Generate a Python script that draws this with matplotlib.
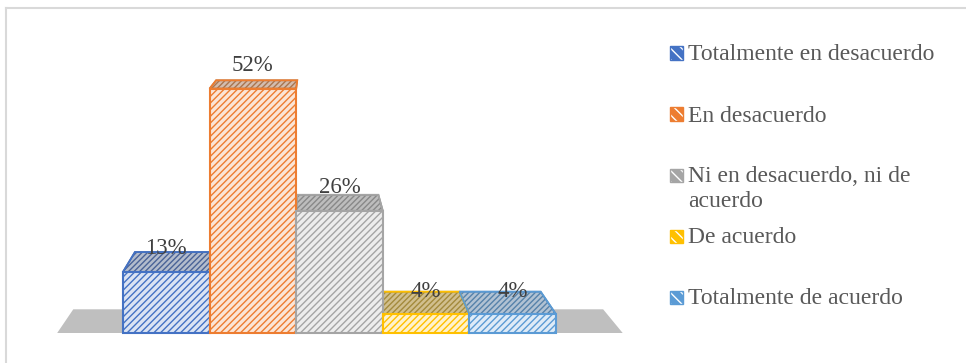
import matplotlib
matplotlib.use("Agg")
import matplotlib.pyplot as plt
from matplotlib.patches import Polygon, Rectangle
from matplotlib.lines import Line2D

# Datos
CATEGORIAS = ["Totalmente en desacuerdo", "En desacuerdo",
              "Ni en desacuerdo, ni de\nacuerdo", "De acuerdo",
              "Totalmente de acuerdo"]
PORCENTAJES = [13, 52, 26, 4, 4]

# Colores: borde/rayado, frente claro, cara superior
COLOR_LINEA = ["#4472c4", "#ed7d31", "#a5a5a5", "#ffc000", "#5b9bd5"]
COLOR_FRENTE = ["#dae3f3", "#fbe5d6", "#ededed", "#fff2cc", "#deebf7"]
COLOR_TAPA = ["#b3bccc", "#d3bcae", "#bdbdbd", "#d1bf8e", "#b1c2d3"]
COLOR_TAPA_RAYA = ["#4a6397", "#a9754f", "#888888", "#a38a3c", "#5682aa"]

W, H = 966, 363
FUENTE = "Liberation Serif"

# Escala en pixeles
BARRA_PX = 86.6
IZQ_PX = 123
BASE_PX = 30
PCT_PX = 4.7

# Perspectiva (punto de fuga y profundidad)
VX, VY, K = 1.69, 80.0, 0.063


def fondo(x, y):
    return (x + (VX - x) * K, y + (VY - y) * K)


fig = plt.figure(figsize=(W / 100, H / 100), dpi=100)
ax = fig.add_axes([0, 0, 1, 1])
ax.set_xlim(-IZQ_PX / BARRA_PX - 0.5, (W - IZQ_PX) / BARRA_PX - 0.5)
ax.set_ylim(-BASE_PX / PCT_PX, (H - BASE_PX) / PCT_PX)
ax.axis("off")

# Piso
x0, x1 = -1.26, 5.27
piso = Polygon([(x0, 0), (x1, 0), fondo(x1, 0), fondo(x0, 0)],
               closed=True, facecolor="#bfbfbf", edgecolor="none", zorder=1)
ax.add_patch(piso)

for i, v in enumerate(PORCENTAJES):
    # cara superior
    a, b = i - 0.5, i + 0.5
    tapa = Polygon([(a, v), (b, v), fondo(b, v), fondo(a, v)], closed=True,
                   facecolor=COLOR_TAPA[i], edgecolor=COLOR_TAPA_RAYA[i],
                   hatch="//////", linewidth=1.2, zorder=2 + i * 0.01)
    ax.add_patch(tapa)
    borde_tapa = Polygon([(a, v), (b, v), fondo(b, v), fondo(a, v)], closed=True,
                         facecolor="none", edgecolor=COLOR_LINEA[i],
                         linewidth=1.3, zorder=2.1 + i * 0.01)
    ax.add_patch(borde_tapa)

ax.bar(range(len(PORCENTAJES)), PORCENTAJES, width=1.0,
       color=COLOR_FRENTE, edgecolor=COLOR_LINEA, hatch="/////",
       linewidth=1.5, zorder=3)

for i, v in enumerate(PORCENTAJES):
    ax.annotate(f"{v}%", (i, v), xytext=(0, 16.5), textcoords="offset points",
                ha="center", va="center", fontsize=16.5, family=FUENTE,
                color="#404040", zorder=5)

# Leyenda
for i, cat in enumerate(CATEGORIAS):
    yc = 53 + 61 * i
    caja = Rectangle((670 / W, 1 - (yc + 6.5) / H), 13 / W, 13 / H,
                     transform=fig.transFigure, facecolor=COLOR_LINEA[i],
                     edgecolor="white", hatch="\\\\\\", linewidth=0)
    fig.add_artist(caja)
    borde = Rectangle((670 / W, 1 - (yc + 6.5) / H), 13 / W, 13 / H,
                      transform=fig.transFigure, facecolor="none",
                      edgecolor=COLOR_LINEA[i], linewidth=1)
    fig.add_artist(borde)
    fig.text(688 / W, 1 - (yc - 8.5) / H, cat, ha="left", va="top",
             fontsize=17, family=FUENTE, color="#595959", linespacing=1.2)

# Marco
fig.add_artist(Line2D([6 / W, 6 / W], [0, 1 - 8 / H], transform=fig.transFigure,
                      color="#d9d9d9", linewidth=1.5))
fig.add_artist(Line2D([6 / W, 1], [1 - 8 / H, 1 - 8 / H], transform=fig.transFigure,
                      color="#d9d9d9", linewidth=1.5))

fig.savefig("out.png", dpi=100, facecolor="white")
